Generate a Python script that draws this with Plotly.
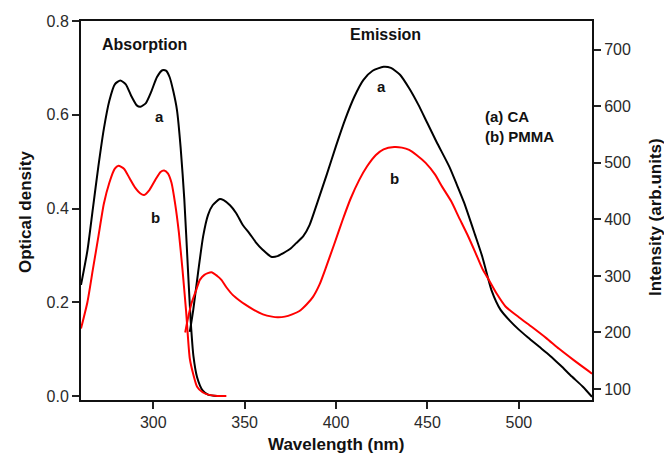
import plotly.graph_objects as go

# ---------- Absorption (Optical density, left axis) ----------
abs_a_wl = [260.5, 264, 267, 270, 273, 276, 279, 282, 285, 288, 291, 293, 296, 299, 302, 305, 307,
            309, 311, 313, 315, 317, 319, 320.5, 322, 324, 327, 330, 335, 338]
abs_a_od = [0.237, 0.31, 0.40, 0.49, 0.57, 0.63, 0.665, 0.673, 0.665, 0.64, 0.62, 0.617, 0.625, 0.65,
            0.68, 0.695, 0.694, 0.68, 0.65, 0.61, 0.53, 0.42, 0.27, 0.16, 0.085, 0.04, 0.012, 0.003, 0.0, 0.0]

abs_b_wl = [260.5, 264, 267, 270, 273, 276, 279, 281, 284, 287, 290, 293, 295, 298, 301, 304, 306,
            308, 310, 312, 314, 316, 318, 320, 322, 324, 327, 330, 335, 340]
abs_b_od = [0.144, 0.20, 0.27, 0.34, 0.41, 0.455, 0.485, 0.491, 0.485, 0.465, 0.445, 0.432, 0.429,
            0.44, 0.46, 0.478, 0.481, 0.475, 0.455, 0.41, 0.35, 0.27, 0.18, 0.08, 0.045, 0.02, 0.008,
            0.003, 0.0, 0.0]

# ---------- Emission (Intensity, right axis) ----------
em_a_wl = [320, 321.9, 324.5, 327.3, 330, 332.5, 336.4, 338.5, 342, 345.4, 349, 352.7, 356, 360,
           364.5, 368, 371, 375, 378.2, 382, 385.5, 390, 395, 400, 405, 410, 415, 420, 426, 430,
           435, 440, 445, 450, 455, 462, 466, 470, 476, 480, 485, 490, 495, 500, 505, 511,
           517, 523, 529, 535, 540]
em_a_int = [201, 240, 305, 370, 408, 425, 436, 434, 425, 411, 390, 375, 360, 346, 334, 335, 340,
            348, 358, 370, 390, 432, 480, 530, 577, 617, 647, 663, 670, 668, 656, 632, 603, 570,
            537, 493, 462, 430, 373, 334, 275, 240, 221, 205, 191, 175, 159, 141, 122, 104, 86]

em_b_wl = [317.5, 319, 321, 323.5, 325.5, 328, 331.8, 335, 337.3, 340, 343.6, 347, 350, 355, 360,
           365, 368, 372, 376, 380, 384, 387.4, 391, 394.6, 399, 403.6, 408, 412.7, 417, 421.8,
           426, 431.8, 436, 440, 444, 449, 454, 458, 463, 467, 472, 476.4, 480, 483.6, 488, 492.7,
           500, 507, 515, 522, 530, 538, 540]
em_b_int = [200, 225, 252, 275, 293, 302, 306.5, 300, 293, 280, 266, 257, 250, 240, 232, 228, 227,
            228, 232, 238, 250, 263, 285, 316, 356, 399, 437, 470, 494, 514, 524, 528, 527, 523,
            514, 500, 480, 458, 432, 405, 372, 340, 313, 293, 268, 246, 227, 210, 190, 171, 151,
            132, 127]

x_ticks = [300, 350, 400, 450, 500]
y_ticks = [0.0, 0.2, 0.4, 0.6, 0.8]
y2_ticks = [100, 200, 300, 400, 500, 600, 700]

BLACK = "#000000"
RED = "#ff0000"
FONT = "Liberation Sans, Arial, sans-serif"

fig = go.Figure()
fig.add_trace(go.Scatter(x=abs_a_wl, y=abs_a_od, mode="lines",
                         line=dict(color=BLACK, width=2, shape="spline", smoothing=0.6),
                         yaxis="y", showlegend=False))
fig.add_trace(go.Scatter(x=abs_b_wl, y=abs_b_od, mode="lines",
                         line=dict(color=RED, width=2, shape="spline", smoothing=0.6),
                         yaxis="y", showlegend=False))
fig.add_trace(go.Scatter(x=em_a_wl, y=em_a_int, mode="lines",
                         line=dict(color=BLACK, width=2, shape="spline", smoothing=0.6),
                         yaxis="y2", showlegend=False))
fig.add_trace(go.Scatter(x=em_b_wl, y=em_b_int, mode="lines",
                         line=dict(color=RED, width=2, shape="spline", smoothing=0.6),
                         yaxis="y2", showlegend=False))

tickfont = dict(family=FONT, size=16, color="#2a2a2a")

fig.update_layout(
    width=664, height=458,
    margin=dict(l=81, r=72, t=21, b=58, autoexpand=False),
    paper_bgcolor="white", plot_bgcolor="white",
    font=dict(family=FONT),
    xaxis=dict(range=[260.5, 540], tickvals=x_ticks, ticks="outside", ticklen=7, tickwidth=2,
               tickcolor="#222", showline=True, linecolor="#111", linewidth=2, mirror=True,
               showgrid=False, zeroline=False, tickfont=tickfont),
    yaxis=dict(range=[-0.0085, 0.8], tickvals=y_ticks, tickformat=".1f", ticks="outside",
               ticklen=7, tickwidth=2, tickcolor="#222", showline=True, linecolor="#111",
               linewidth=2, showgrid=False, zeroline=False, tickfont=tickfont),
    yaxis2=dict(range=[80.5, 751], tickvals=y2_ticks, overlaying="y", side="right",
                ticks="outside", ticklen=7, tickwidth=2, tickcolor="#222", showline=True,
                linecolor="#111", linewidth=2, showgrid=False, zeroline=False, tickfont=tickfont),
)

bold = dict(family=FONT, size=15, color="#111")
ann = []
# in-plot texts
ann.append(dict(x=295.5, y=0.75, xref="x", yref="y", text="<b>Absorption</b>", showarrow=False,
                xanchor="center", yanchor="middle", font=dict(family=FONT, size=16, color="#111")))
ann.append(dict(x=426.9, y=726.5, xref="x", yref="y2", text="<b>Emission</b>", showarrow=False,
                xanchor="center", yanchor="middle", font=dict(family=FONT, size=16, color="#111")))
for xx, yy, ref, t in [(303.3, 0.597, "y", "a"), (301.5, 0.380, "y", "b"),
                       (424.9, 635, "y2", "a"), (432.2, 473, "y2", "b")]:
    ann.append(dict(x=xx, y=yy, xref="x", yref=ref, text="<b>%s</b>" % t, showarrow=False,
                    xanchor="center", yanchor="middle", font=bold))
ann.append(dict(x=480.4, y=582, xref="x", yref="y2", text="<b>(a) CA</b>", showarrow=False,
                xanchor="left", yanchor="middle", font=bold))
ann.append(dict(x=480.4, y=546.5, xref="x", yref="y2", text="<b>(b) PMMA</b>", showarrow=False,
                xanchor="left", yanchor="middle", font=bold))
# axis titles
title_font = dict(family=FONT, size=17, color="#111")
ann.append(dict(x=(336 - 81) / 511, y=(400 - 444) / 379, xref="paper", yref="paper",
                xanchor="center", yanchor="middle",
                text="<b>Wavelength (nm)</b>", showarrow=False, font=title_font))
ann.append(dict(x=(25 - 81) / 511, y=(400 - 212) / 379, xref="paper", yref="paper",
                xanchor="center", yanchor="middle",
                text="<b>Optical density</b>", textangle=-90, showarrow=False, font=title_font))
ann.append(dict(x=(655 - 81) / 511, y=(400 - 217) / 379, xref="paper", yref="paper",
                xanchor="center", yanchor="middle",
                text="<b>Intensity (arb.units)</b>", textangle=-90, showarrow=False,
                font=title_font))
fig.update_layout(annotations=ann)

fig.write_html("out.html", config={"displayModeBar": False},
               post_script="document.body.style.margin='0';document.body.style.padding='0';")
